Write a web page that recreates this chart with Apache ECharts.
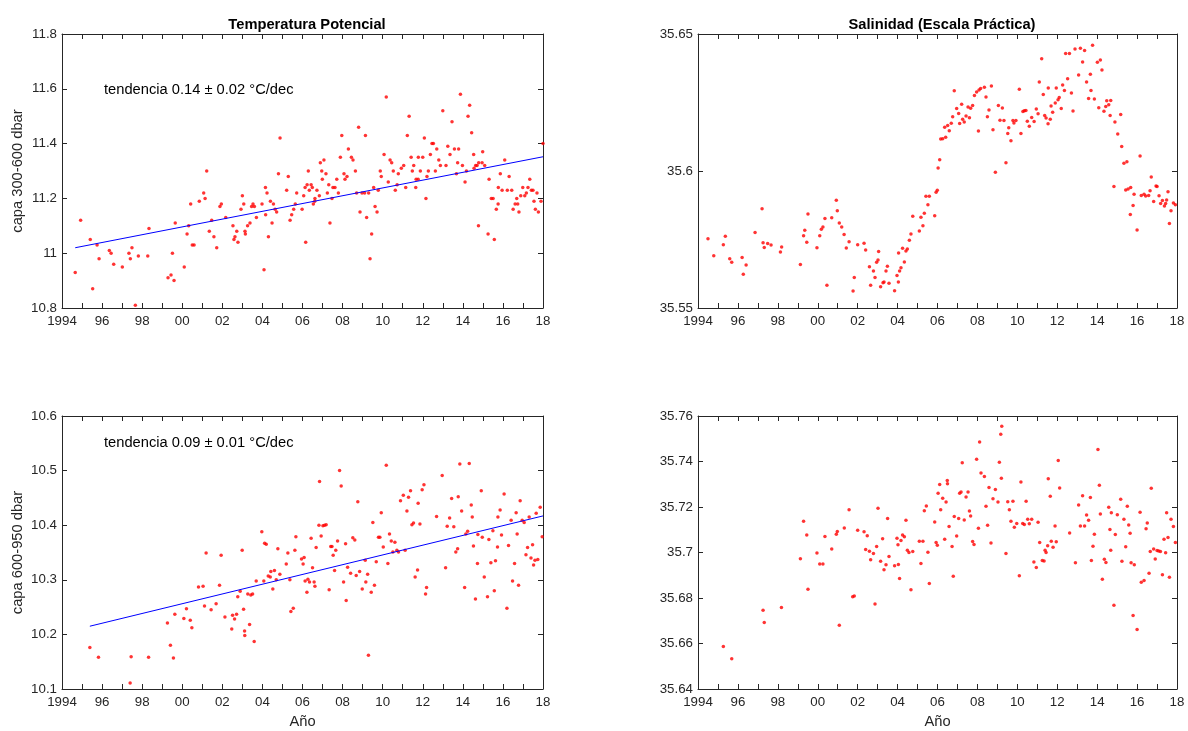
<!DOCTYPE html>
<html>
<head>
<meta charset="utf-8">
<title>Temperatura y salinidad</title>
<script src="https://cdn.jsdelivr.net/npm/echarts@6/dist/echarts.min.js"></script>
<style>
  html, body { margin: 0; padding: 0; background: #fff; }
  #chart { width: 1188px; height: 731px; }
</style>
</head>
<body>
<div id="chart"></div>
<script>
// temperatura potencial, capa 300-600 dbar  [año, valor]
var tempUpper = [
  [1994.66,10.93],[1994.93,11.12],[1995.41,11.05],[1995.53,10.87],[1995.75,11.03],[1995.85,10.98],[1996.36,11.01],[1996.45,11.00],
  [1996.58,10.96],[1997.01,10.95],[1997.34,11.00],[1997.41,10.98],[1997.49,11.02],[1997.66,10.81],[1997.81,10.99],[1998.28,10.99],
  [1998.34,11.09],[1999.29,10.91],[1999.44,10.92],[1999.51,11.00],[1999.59,10.90],[1999.65,11.11],[2000.10,10.95],[2000.24,11.07],
  [2000.32,11.10],[2000.42,11.18],[2000.50,11.03],[2000.59,11.03],[2000.85,11.19],[2001.07,11.22],[2001.14,11.20],[2001.22,11.30],
  [2001.35,11.08],[2001.47,11.12],[2001.58,11.06],[2001.72,11.02],[2001.88,11.17],[2001.95,11.18],[2002.17,11.13],
  [2002.53,11.10],[2002.58,11.05],[2002.63,11.06],[2002.72,11.08],[2002.78,11.04],[2002.93,11.16],[2003.00,11.21],[2003.07,11.18],
  [2003.13,11.08],[2003.15,11.07],[2003.26,11.10],[2003.38,11.11],[2003.46,11.17],[2003.53,11.18],[2003.60,11.17],[2003.70,11.13],
  [2003.98,11.18],[2004.08,10.94],[2004.15,11.24],[2004.16,11.14],[2004.23,11.22],[2004.30,11.06],[2004.40,11.19],[2004.48,11.11],
  [2004.55,11.18],[2004.63,11.16],[2004.71,11.15],[2004.80,11.29],[2004.88,11.42],[2005.21,11.23],[2005.29,11.28],[2005.38,11.12],
  [2005.46,11.14],[2005.56,11.16],[2005.64,11.18],[2005.71,11.22],[2005.98,11.16],[2006.06,11.21],[2006.16,11.04],[2006.13,11.24],
  [2006.23,11.25],[2006.29,11.30],[2006.34,11.23],[2006.43,11.25],[2006.49,11.24],[2006.54,11.18],[2006.61,11.19],[2006.62,11.20],
  [2006.72,11.23],[2006.84,11.21],[2006.89,11.33],[2006.96,11.30],[2006.99,11.27],[2007.07,11.34],[2007.17,11.29],[2007.24,11.22],
  [2007.31,11.25],[2007.37,11.11],[2007.47,11.20],[2007.52,11.24],[2007.62,11.24],[2007.71,11.27],[2007.79,11.22],[2007.89,11.35],
  [2007.96,11.43],[2008.07,11.29],[2008.12,11.27],[2008.22,11.28],[2008.29,11.38],[2008.44,11.35],[2008.52,11.34],[2008.64,11.30],
  [2008.70,11.22],[2008.80,11.46],[2008.87,11.15],[2008.97,11.22],[2009.10,11.22],[2009.14,11.43],[2009.20,11.13],[2009.30,11.22],
  [2009.37,10.98],[2009.45,11.07],[2009.55,11.24],[2009.62,11.17],[2009.72,11.15],[2009.78,11.23],[2009.88,11.30],[2009.93,11.28],
  [2010.07,11.36],[2010.18,11.57],[2010.28,11.26],[2010.37,11.34],[2010.45,11.33],
  [2010.53,11.30],[2010.63,11.23],[2010.72,11.25],[2010.78,11.29],[2010.93,11.31],[2011.05,11.32],[2011.15,11.24],[2011.23,11.43],
  [2011.32,11.50],[2011.42,11.35],[2011.48,11.30],[2011.55,11.32],[2011.65,11.24],[2011.67,11.27],[2011.77,11.27],[2011.78,11.35],
  [2011.88,11.30],[2012.00,11.35],[2012.08,11.42],[2012.16,11.20],[2012.21,11.28],[2012.28,11.30],[2012.38,11.36],[2012.46,11.40],
  [2012.53,11.40],[2012.63,11.30],[2012.70,11.38],[2012.80,11.34],[2012.88,11.32],[2013.00,11.52],[2013.16,11.32],[2013.25,11.39],
  [2013.36,11.36],[2013.46,11.48],[2013.58,11.38],[2013.68,11.29],[2013.74,11.33],[2013.79,11.38],[2013.88,11.58],[2013.98,11.32],
  [2014.11,11.26],[2014.18,11.30],[2014.26,11.50],[2014.34,11.54],[2014.44,11.44],[2014.54,11.36],[2014.56,11.31],[2014.64,11.32],
  [2014.71,11.32],[2014.78,11.10],[2014.79,11.33],[2014.96,11.33],[2014.99,11.37],[2015.09,11.32],[2015.26,11.07],[2015.31,11.27],
  [2015.42,11.20],[2015.51,11.20],[2015.57,11.05],[2015.67,11.16],[2015.76,11.18],[2015.77,11.24],[2015.87,11.29],[2015.96,11.23],
  [2016.09,11.34],[2016.22,11.23],[2016.31,11.28],[2016.44,11.23],[2016.51,11.16],[2016.61,11.18],[2016.69,11.20],[2016.74,11.18],
  [2016.80,11.15],[2016.89,11.21],[2016.99,11.24],[2017.09,11.21],[2017.17,11.22],[2017.25,11.24],[2017.34,11.27],[2017.42,11.23],
  [2017.50,11.23],[2017.55,11.19],[2017.62,11.16],[2017.70,11.22],[2017.77,11.15],[2017.90,11.19],[2018.00,11.40]
];

// temperatura potencial, capa 600-950 dbar
var tempLower = [
  [1995.39,10.176],[1995.82,10.158],[1997.40,10.111],[1997.45,10.159],[1998.32,10.158],[1999.26,10.221],[1999.41,10.180],[1999.56,10.157],
  [1999.63,10.237],[2000.08,10.229],[2000.21,10.247],[2000.40,10.226],[2000.48,10.212],[2000.81,10.287],[2001.04,10.288],[2001.11,10.252],
  [2001.19,10.349],[2001.44,10.245],[2001.69,10.256],[2001.86,10.290],[2001.94,10.345],[2002.13,10.232],
  [2002.47,10.210],[2002.51,10.235],[2002.61,10.228],[2002.71,10.237],[2002.77,10.269],[2002.89,10.279],[2002.99,10.354],[2003.06,10.246],
  [2003.11,10.206],[2003.12,10.198],[2003.27,10.274],[2003.36,10.218],[2003.42,10.272],[2003.51,10.274],[2003.59,10.187],[2003.69,10.298],
  [2003.97,10.388],[2004.07,10.298],[2004.11,10.367],[2004.19,10.365],[2004.29,10.307],[2004.39,10.305],[2004.42,10.315],[2004.52,10.283],
  [2004.60,10.317],[2004.69,10.300],[2004.77,10.357],[2004.87,10.310],[2005.19,10.329],[2005.27,10.349],[2005.37,10.300],[2005.42,10.242],
  [2005.54,10.248],[2005.62,10.354],[2005.67,10.379],[2005.95,10.338],[2006.03,10.329],[2006.08,10.341],[2006.13,10.298],[2006.22,10.277],
  [2006.27,10.301],[2006.35,10.296],[2006.43,10.376],[2006.50,10.322],[2006.58,10.296],[2006.62,10.288],[2006.68,10.359],[2006.82,10.400],
  [2006.85,10.480],[2006.93,10.380],[2007.02,10.399],[2007.10,10.400],[2007.18,10.401],[2007.33,10.282],[2007.41,10.361],[2007.47,10.361],
  [2007.53,10.345],[2007.60,10.317],[2007.66,10.354],[2007.75,10.371],[2007.85,10.500],[2007.93,10.472],[2008.05,10.296],[2008.15,10.366],
  [2008.18,10.262],[2008.25,10.323],[2008.40,10.312],[2008.51,10.377],[2008.61,10.373],[2008.68,10.308],[2008.76,10.443],[2008.85,10.315],
  [2008.98,10.283],[2009.13,10.336],[2009.16,10.296],[2009.25,10.310],[2009.29,10.162],[2009.43,10.277],[2009.51,10.405],[2009.59,10.290],
  [2009.68,10.333],[2009.79,10.378],[2009.86,10.378],[2009.93,10.423],[2010.03,10.360],[2010.18,10.510],[2010.26,10.330],[2010.34,10.384],
  [2010.43,10.371],[2010.51,10.351],[2010.61,10.369],[2010.71,10.354],[2010.79,10.351],[2010.89,10.445],[2011.03,10.455],[2011.12,10.354],
  [2011.21,10.426],[2011.29,10.451],[2011.39,10.463],[2011.46,10.401],[2011.54,10.404],[2011.62,10.305],[2011.74,10.318],[2011.77,10.440],
  [2011.86,10.402],[2011.97,10.465],[2012.06,10.474],[2012.14,10.274],[2012.19,10.286],[2012.69,10.416],[2012.97,10.491],[2013.14,10.322],
  [2013.22,10.398],[2013.34,10.413],[2013.44,10.449],[2013.55,10.397],[2013.65,10.351],[2013.74,10.357],[2013.77,10.452],[2013.85,10.512],
  [2013.94,10.426],[2014.09,10.286],[2014.15,10.384],[2014.24,10.389],[2014.32,10.513],[2014.42,10.437],[2014.47,10.415],[2014.53,10.362],
  [2014.63,10.265],[2014.73,10.330],[2014.75,10.383],[2014.92,10.463],[2014.97,10.378],[2015.07,10.305],[2015.23,10.269],[2015.30,10.374],
  [2015.40,10.331],[2015.50,10.390],[2015.57,10.280],[2015.63,10.335],[2015.73,10.360],[2015.75,10.415],[2015.86,10.428],[2015.93,10.382],
  [2016.06,10.457],[2016.20,10.248],[2016.28,10.363],[2016.41,10.409],[2016.48,10.298],[2016.58,10.330],[2016.66,10.423],[2016.71,10.384],
  [2016.78,10.290],[2016.86,10.445],[2016.96,10.409],[2017.06,10.405],[2017.15,10.346],[2017.23,10.359],[2017.31,10.415],[2017.40,10.340],
  [2017.48,10.364],[2017.53,10.327],[2017.60,10.336],[2017.66,10.422],[2017.74,10.337],[2017.86,10.433],[2017.96,10.379]
];

// salinidad, capa 300-600 dbar
var salUpper = [
  [1994.50,35.5753],[1994.79,35.5691],[1995.27,35.5731],[1995.37,35.5762],[1995.59,35.5680],[1995.69,35.5667],[1996.21,35.5684],[1996.27,35.5623],
  [1996.41,35.5657],[1996.86,35.5776],[1997.21,35.5862],[1997.26,35.5738],[1997.32,35.5721],[1997.49,35.5735],[1997.66,35.5730],[1998.13,35.5704],
  [1998.19,35.5723],[1999.13,35.5659],[1999.29,35.5764],[1999.35,35.5784],[1999.45,35.5740],[1999.51,35.5843],[1999.96,35.5720],[2000.10,35.5764],
  [2000.18,35.5787],[2000.26,35.5796],[2000.36,35.5827],[2000.46,35.5583],[2000.70,35.5829],[2000.93,35.5893],[2000.98,35.5855],[2001.08,35.5810],
  [2001.20,35.5796],[2001.32,35.5768],[2001.43,35.5719],[2001.57,35.5742],[2001.77,35.5562],[2001.83,35.5611],[2002.00,35.5731],[2002.32,35.5736],
  [2002.40,35.5712],[2002.59,35.5651],[2002.65,35.5583],[2002.79,35.5635],[2002.87,35.5611],[2002.95,35.5667],[2003.02,35.5675],[2003.05,35.5706],
  [2003.15,35.5578],[2003.27,35.5592],[2003.32,35.5595],[2003.42,35.5635],[2003.49,35.5652],[2003.57,35.5590],[2003.85,35.5563],[2003.97,35.5619],
  [2004.04,35.5595],[2004.05,35.5701],[2004.10,35.5635],[2004.17,35.5647],[2004.25,35.5718],[2004.34,35.5668],[2004.42,35.5708],[2004.49,35.5715],
  [2004.59,35.5747],[2004.67,35.5770],[2004.76,35.5835],[2005.09,35.5781],[2005.17,35.5831],[2005.27,35.5800],[2005.34,35.5846],[2005.42,35.5908],
  [2005.52,35.5877],[2005.59,35.5908],[2005.86,35.5837],[2005.93,35.5922],[2005.99,35.5930],[2006.03,35.6011],[2006.11,35.6041],[2006.16,35.6117],
  [2006.26,35.6118],[2006.41,35.6123],[2006.36,35.6160],[2006.51,35.6166],[2006.59,35.6147],[2006.69,35.6174],[2006.76,35.6198],[2006.84,35.6293],
  [2006.96,35.6228],[2007.06,35.6210],[2007.11,35.6173],[2007.21,35.6244],[2007.26,35.6189],[2007.34,35.6179],[2007.43,35.6201],[2007.53,35.6234],
  [2007.60,35.6194],[2007.66,35.6229],[2007.76,35.6239],[2007.85,35.6276],[2007.96,35.6288],[2008.05,35.6146],[2008.08,35.6296],[2008.16,35.6301],
  [2008.35,35.6306],[2008.43,35.6270],[2008.50,35.6198],[2008.58,35.6223],[2008.70,35.6310],[2008.78,35.6151],[2008.90,35.5995],[2009.05,35.6239],
  [2009.13,35.6185],[2009.25,35.6230],[2009.33,35.6184],[2009.43,35.6030],[2009.52,35.6137],[2009.57,35.6158],[2009.68,35.6110],[2009.78,35.6184],
  [2009.83,35.6175],[2009.93,35.6184],[2010.10,35.6298],[2010.18,35.6137],[2010.28,35.6217],[2010.35,35.6220],[2010.43,35.6221],[2010.50,35.6182],
  [2010.60,35.6163],[2010.72,35.6195],[2010.84,35.6181],[2010.95,35.6226],[2011.04,35.6209],[2011.10,35.6325],[2011.22,35.6410],[2011.30,35.6279],
  [2011.37,35.6203],[2011.44,35.6193],[2011.54,35.6172],[2011.55,35.6303],[2011.65,35.6189],[2011.69,35.6237],[2011.77,35.6214],[2011.90,35.6248],
  [2011.95,35.6303],[2012.04,35.6260],[2012.10,35.6268],[2012.20,35.6228],[2012.27,35.6314],[2012.36,35.6294],[2012.42,35.6429],[2012.52,35.6337],
  [2012.61,35.6429],[2012.71,35.6285],[2012.79,35.6219],[2012.89,35.6445],[2013.07,35.6350],[2013.16,35.6448],[2013.27,35.6398],[2013.37,35.6440],
  [2013.47,35.6325],[2013.57,35.6265],[2013.66,35.6353],[2013.69,35.6294],[2013.77,35.6459],[2013.86,35.6263],[2014.01,35.6397],[2014.08,35.6231],
  [2014.16,35.6405],[2014.24,35.6369],[2014.34,35.6218],[2014.43,35.6235],[2014.48,35.6256],[2014.58,35.6242],[2014.68,35.6257],[2014.65,35.6203],
  [2014.84,35.5943],[2014.89,35.6179],[2015.03,35.6135],[2015.18,35.6206],[2015.23,35.6089],[2015.34,35.6028],[2015.43,35.5931],[2015.49,35.6034],
  [2015.55,35.5934],[2015.66,35.5841],[2015.68,35.5940],[2015.80,35.5874],[2015.85,35.5915],[2016.00,35.5785],[2016.15,35.6055],[2016.21,35.5911],
  [2016.35,35.5915],[2016.43,35.5909],[2016.58,35.5911],[2016.65,35.5928],[2016.71,35.5978],[2016.83,35.5889],[2016.95,35.5945],[2017.00,35.5943],
  [2017.10,35.5910],[2017.18,35.5881],[2017.27,35.5892],[2017.37,35.5872],[2017.43,35.5881],[2017.48,35.5894],[2017.55,35.5924],[2017.62,35.5808],
  [2017.70,35.5855],[2017.82,35.5883],[2017.92,35.5877]
];

// salinidad, capa 600-950 dbar
var salLower = [
  [1995.27,35.6587],[1995.69,35.6533],[1997.26,35.6746],[1997.32,35.6692],[1998.18,35.6758],[1999.13,35.6972],[1999.29,35.7137],[1999.45,35.7077],
  [1999.51,35.6839],[1999.96,35.6998],[2000.10,35.6949],[2000.26,35.6950],[2000.36,35.7070],[2000.70,35.7015],[2000.93,35.7080],[2000.98,35.7092],
  [2001.08,35.6680],[2001.33,35.7108],[2001.57,35.7188],[2001.75,35.6806],[2001.83,35.6809],[2002.00,35.7098],[2002.32,35.7091],
  [2002.40,35.7013],[2002.48,35.7074],[2002.59,35.7006],[2002.65,35.6968],[2002.79,35.6996],[2002.87,35.6774],[2002.95,35.7026],[2003.02,35.7194],
  [2003.15,35.6962],[2003.25,35.7060],[2003.32,35.6924],[2003.42,35.6946],[2003.50,35.7149],[2003.57,35.6982],[2003.85,35.6942],[2003.97,35.7063],
  [2004.02,35.7034],[2004.04,35.6947],[2004.10,35.6886],[2004.17,35.7053],[2004.25,35.7077],[2004.34,35.7069],[2004.42,35.7142],[2004.49,35.7010],
  [2004.57,35.7000],[2004.67,35.6836],[2004.76,35.7004],[2005.09,35.7050],[2005.17,35.6952],[2005.27,35.7050],[2005.34,35.7184],[2005.44,35.7204],
  [2005.52,35.7001],[2005.59,35.6864],[2005.86,35.7134],[2005.93,35.7044],[2005.99,35.7032],[2006.03,35.7260],[2006.11,35.7299],[2006.16,35.7188],
  [2006.26,35.7238],[2006.36,35.7058],[2006.43,35.7222],[2006.49,35.7317],[2006.50,35.7302],[2006.58,35.7114],[2006.73,35.7026],[2006.79,35.6896],
  [2006.84,35.7158],[2006.96,35.7073],[2007.06,35.7150],[2007.11,35.7260],[2007.18,35.7266],[2007.24,35.7394],[2007.34,35.7143],[2007.43,35.7244],
  [2007.53,35.7266],[2007.60,35.7182],[2007.66,35.7160],[2007.76,35.7048],[2007.83,35.7035],[2007.96,35.7410],[2008.05,35.7107],[2008.11,35.7486],
  [2008.18,35.7350],[2008.35,35.7334],[2008.43,35.7203],[2008.51,35.7120],[2008.58,35.7286],[2008.68,35.7042],[2008.78,35.7236],[2008.90,35.7277],
  [2009.03,35.7222],[2009.10,35.7397],[2009.17,35.7520],[2009.20,35.7326],[2009.22,35.7555],[2009.43,35.6996],[2009.52,35.7223],[2009.60,35.7188],
  [2009.68,35.7137],[2009.78,35.7225],[2009.85,35.7111],[2009.97,35.7128],[2010.10,35.6898],[2010.18,35.7310],[2010.27,35.7128],[2010.35,35.7123],
  [2010.44,35.7225],[2010.52,35.7146],[2010.60,35.7126],[2010.72,35.7146],[2010.83,35.6958],[2010.95,35.6934],[2011.04,35.7133],[2011.12,35.7044],
  [2011.25,35.6965],[2011.34,35.6963],[2011.39,35.7010],[2011.44,35.7000],[2011.52,35.7030],[2011.55,35.7324],[2011.65,35.7247],[2011.70,35.7050],
  [2011.79,35.7023],[2011.89,35.7117],[2011.95,35.7047],[2012.05,35.7404],[2012.12,35.7283],[2012.62,35.7086],[2012.91,35.6955],[2013.07,35.7209],
  [2013.16,35.7117],[2013.27,35.7250],[2013.37,35.7117],[2013.47,35.7165],[2013.57,35.7142],[2013.66,35.7242],[2013.71,35.6965],[2013.79,35.7028],
  [2013.86,35.7080],[2014.04,35.7453],[2014.11,35.7296],[2014.16,35.7169],[2014.26,35.6882],[2014.36,35.6970],[2014.44,35.6956],[2014.58,35.7199],
  [2014.64,35.7101],[2014.68,35.7010],[2014.71,35.7175],[2014.84,35.6768],[2014.91,35.7079],[2015.01,35.7166],[2015.18,35.7234],[2015.24,35.6962],
  [2015.34,35.7146],[2015.43,35.7025],[2015.51,35.7203],[2015.58,35.7121],[2015.65,35.7085],[2015.70,35.6955],[2015.80,35.6723],[2015.86,35.6946],
  [2016.00,35.6661],[2016.15,35.7177],[2016.21,35.6869],[2016.35,35.6877],[2016.45,35.7104],[2016.51,35.7130],[2016.60,35.6909],[2016.66,35.7004],
  [2016.71,35.7282],[2016.83,35.7015],[2016.91,35.6971],[2017.00,35.7009],[2017.08,35.7007],[2017.17,35.7004],[2017.27,35.6902],[2017.35,35.7058],
  [2017.43,35.6999],[2017.48,35.7175],[2017.55,35.7066],[2017.62,35.6891],[2017.70,35.7146],[2017.82,35.7114],[2017.92,35.7044]
];

// rectas de tendencia (extremos)
var trendUpper = [[1994.66, 11.02], [2018, 11.352]];
var trendLower = [[1995.39, 10.215], [2018, 10.417]];

var panelTitles = ['Temperatura Potencial', 'Salinidad (Escala Práctica)'];
var layerNames = ['capa 300-600 dbar', 'capa 600-950 dbar'];
var trendTexts = ['tendencia 0.14 \u00b1 0.02 \u00b0C/dec', 'tendencia 0.09 \u00b1 0.01 \u00b0C/dec'];

// limites de los ejes y: [min, max, intervalo]
var yLimits = [[10.8, 11.8, 0.2], [35.55, 35.65, 0.05], [10.1, 10.6, 0.1], [35.64, 35.76, 0.02]];

var FONT = 'Liberation Sans, Arial, sans-serif';
var AX = '#262626';
var TICK_FS = 13.3;
var LABEL_FS = 14.7;

var grids = [
  { left: 62, top: 34, width: 481, height: 274 },
  { left: 698, top: 34, width: 479, height: 274 },
  { left: 62, top: 416, width: 481, height: 273 },
  { left: 698, top: 416, width: 479, height: 273 }
];

function yearLabel(v) {
  if (v === 1994) return '1994';
  if (v % 2 !== 0) return '';
  var s = String(v % 100);
  return s.length < 2 ? '0' + s : s;
}

var xAxes = [], yAxes = [];
grids.forEach(function (g, i) {
  var bottomRow = i >= 2;
  // eje inferior
  xAxes.push({
    gridIndex: i, type: 'value', min: 1994, max: 2018, interval: 1,
    name: bottomRow ? 'Año' : '', nameLocation: 'middle', nameGap: 25,
    nameTextStyle: { color: AX, fontFamily: FONT, fontSize: LABEL_FS },
    axisLine: { show: true, lineStyle: { color: AX, width: 1 } },
    axisTick: { show: true, inside: true, length: 5, lineStyle: { color: AX } },
    axisLabel: { color: AX, fontFamily: FONT, fontSize: TICK_FS, margin: 7, formatter: yearLabel },
    splitLine: { show: false }
  });
  // eje superior (caja)
  xAxes.push({
    gridIndex: i, type: 'value', position: 'top', min: 1994, max: 2018, interval: 1,
    axisLine: { show: true, lineStyle: { color: AX, width: 1 } },
    axisTick: { show: true, inside: true, length: 5, lineStyle: { color: AX } },
    axisLabel: { show: false }, splitLine: { show: false }
  });
  var lim = yLimits[i];
  yAxes.push({
    gridIndex: i, type: 'value', min: lim[0], max: lim[1], interval: lim[2],
    name: (i % 2 === 0) ? layerNames[i / 2] : '', nameLocation: 'middle', nameGap: 37, nameRotate: 90,
    nameTextStyle: { color: AX, fontFamily: FONT, fontSize: LABEL_FS },
    axisLine: { show: true, lineStyle: { color: AX, width: 1 } },
    axisTick: { show: true, inside: true, length: 5, lineStyle: { color: AX } },
    axisLabel: { color: AX, fontFamily: FONT, fontSize: TICK_FS, margin: 5,
      formatter: function (v) { return String(parseFloat(v.toFixed(3))); } },
    splitLine: { show: false }
  });
  yAxes.push({
    gridIndex: i, type: 'value', position: 'right', min: lim[0], max: lim[1], interval: lim[2],
    axisLine: { show: true, lineStyle: { color: AX, width: 1 } },
    axisTick: { show: true, inside: true, length: 5, lineStyle: { color: AX } },
    axisLabel: { show: false }, splitLine: { show: false }
  });
});

var panels = [tempUpper, salUpper, tempLower, salLower];
var series = [];
panels.forEach(function (d, i) {
  series.push({
    type: 'scatter', xAxisIndex: 2 * i, yAxisIndex: 2 * i, data: d,
    symbol: 'circle', symbolSize: 3.5, itemStyle: { color: '#ff0000' },
    silent: true, animation: false
  });
});
[[trendUpper, 0], [trendLower, 2]].forEach(function (t) {
  series.push({
    type: 'line', xAxisIndex: 2 * t[1], yAxisIndex: 2 * t[1], data: t[0],
    showSymbol: false, symbol: 'none', lineStyle: { color: '#0000ff', width: 1 },
    silent: true, animation: false, z: 3
  });
});

var option = {
  backgroundColor: '#ffffff',
  animation: false,
  title: [
    { text: panelTitles[0], left: 302, top: 12, textAlign: 'center',
      textStyle: { fontFamily: FONT, fontSize: LABEL_FS, fontWeight: 'bold', color: '#000' } },
    { text: panelTitles[1], left: 937, top: 12, textAlign: 'center',
      textStyle: { fontFamily: FONT, fontSize: LABEL_FS, fontWeight: 'bold', color: '#000' } }
  ],
  grid: grids,
  xAxis: xAxes,
  yAxis: yAxes,
  series: series,
  graphic: [
    { type: 'text', left: 104, top: 82,
      style: { text: trendTexts[0], font: LABEL_FS + 'px ' + FONT, fill: '#000' } },
    { type: 'text', left: 104, top: 435,
      style: { text: trendTexts[1], font: LABEL_FS + 'px ' + FONT, fill: '#000' } }
  ]
};

var chart = echarts.init(document.getElementById('chart'), null, { renderer: 'canvas' });
chart.setOption(option);
</script>
</body>
</html>
